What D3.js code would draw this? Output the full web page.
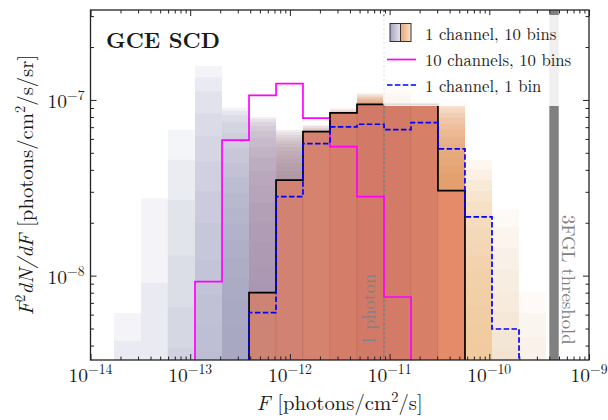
<!DOCTYPE html>
<html>
<head>
<meta charset="utf-8">
<script src="https://cdn.jsdelivr.net/npm/d3@7"></script>
<style>
  body { margin: 0; background: #fff; }
</style>
</head>
<body>
<div id="canvas"></div>
<script>
// flux bin edges, log10(F [photons/cm^2/s])
var binEdgesLog = [-13.764, -13.493, -13.223, -12.952, -12.681, -12.410, -12.139, -11.869, -11.598,
                   -11.327, -11.056, -10.785, -10.515, -10.244, -9.973, -9.702, -9.431];

// "1 channel, 10 bins": upper quantile levels of F^2 dN/dF in each bin (highest first)
var bandTops = [
  [6.13e-9, 4.25e-9],
  [2.76e-8, 9.12e-9],
  [6.75e-8, 4.56e-8, 2.70e-8, 1.30e-8, 6.61e-9, 3.86e-9],
  [1.56e-7, 1.34e-7, 1.12e-7, 8.40e-8, 6.24e-8, 4.45e-8, 3.03e-8, 1.99e-8, 1.23e-8, 7.84e-9, 5.24e-9, 3.69e-9],
  [9.01e-8, 8.66e-8, 8.21e-8, 7.49e-8, 6.49e-8, 5.33e-8, 4.38e-8, 3.60e-8, 2.96e-8, 2.43e-8, 1.99e-8, 1.60e-8, 1.26e-8, 9.70e-9, 7.27e-9, 5.24e-9],
  [8.00e-8, 7.80e-8, 7.49e-8, 7.11e-8, 6.66e-8, 6.08e-8, 5.40e-8, 4.68e-8, 3.94e-8, 3.24e-8, 2.59e-8, 2.02e-8, 1.54e-8, 1.14e-8, 8.85e-9],
  [6.75e-8, 6.58e-8, 6.32e-8, 6.08e-8, 5.84e-8, 5.62e-8, 5.40e-8, 5.12e-8, 4.86e-8, 4.62e-8, 4.38e-8, 4.16e-8, 3.94e-8, 3.74e-8, 3.60e-8],
  [7.20e-8, 7.11e-8, 6.97e-8, 6.88e-8, 6.79e-8, 6.71e-8, 6.62e-8],
  [8.94e-8, 8.77e-8, 8.60e-8, 8.49e-8],
  [1.092e-7, 1.068e-7, 1.047e-7, 1.027e-7, 1.006e-7, 9.87e-8, 9.68e-8, 9.55e-8],
  [1.170e-7, 1.133e-7, 1.096e-7, 1.061e-7, 1.027e-7, 1.000e-7, 9.74e-8, 9.55e-8],
  [1.000e-7, 9.74e-8, 9.55e-8],
  [1.000e-7, 9.49e-8, 9.01e-8, 8.43e-8, 7.90e-8, 7.30e-8, 6.75e-8, 6.16e-8, 5.62e-8, 5.12e-8, 4.68e-8, 4.21e-8, 3.79e-8, 3.41e-8],
  [4.56e-8, 4.00e-8, 3.50e-8, 3.03e-8, 2.63e-8, 2.25e-8, 1.89e-8, 1.58e-8, 1.30e-8, 1.06e-8, 8.51e-9, 6.72e-9, 5.24e-9, 3.98e-9],
  [2.37e-8, 1.89e-8, 1.44e-8, 1.08e-8, 7.97e-9, 6.21e-9, 4.78e-9, 3.88e-9],
  [8.07e-9, 6.13e-9, 4.48e-9]
];

// medians / other estimates per bin (null = below the plot)
var median10bins = [null, null, null, null, null, 8.0e-9, 3.50e-8, 6.60e-8, 8.43e-8, 9.43e-8, 9.43e-8, 9.43e-8, 3.05e-8, null, null, null];
var tenChannels  = [null, null, null, 9.24e-9, 5.90e-8, 1.063e-7, 1.238e-7, 7.87e-8, 5.42e-8, 2.82e-8, 7.56e-9, null, null, null, null, null];
var oneBin       = [null, null, null, null, null, 6.16e-9, 2.82e-8, 5.64e-8, 7.02e-8, 7.27e-8, 6.78e-8, 7.43e-8, 5.26e-8, 2.16e-8, 4.97e-9, null];

var onePhotonFlux = 8.8e-12;
var threshold3FGL = [4.0e-10, 4.97e-10];

var xTickValues = [1e-14, 1e-13, 1e-12, 1e-11, 1e-10, 1e-9];
var xTickExps   = ["\u221214", "\u221213", "\u221212", "\u221211", "\u221210", "\u22129"];
var yTickValues = [1e-8, 1e-7];
var yTickExps   = ["\u22128", "\u22127"];

// colours per bin
var bandColors = ["#aeb2cc", "#aeb2cc", "#b4b8d0", "#aeb0ca", "#a6a2be", "#a090aa", "#ab909e", "#c08c90",
                  "#c88878", "#d8804c", "#d8804c", "#d8804c", "#e5935c", "#eec598", "#f3dcc2", "#f2ddc4"];
var medianColors = [null, null, null, null, null, "#ce8475", "#d18273", "#d5836f", "#d47e6a", "#d27a67",
                    "#d37b67", "#d87f68", "#e68b6a", null, null, null];

var SERIF = "'Latin Modern Roman', 'CMU Serif', 'Liberation Serif', serif";

var W = 608, H = 420;
var margin = {left: 90.5, right: 19, top: 10, bottom: 60};

var svg = d3.select("#canvas").append("svg")
    .attr("width", W).attr("height", H)
    .attr("font-family", SERIF);

var x = d3.scaleLog().domain([1e-14, 1e-9]).range([margin.left, W - margin.right]);
var y = d3.scaleLog().domain([3.31e-9, 3.25e-7]).range([H - margin.bottom, margin.top]);
var x0 = x.range()[0], x1 = x.range()[1], yb = y.range()[0], yt = y.range()[1];

var edges = binEdgesLog.map(function(e) { return Math.pow(10, e); });

svg.append("clipPath").attr("id", "plotclip")
  .append("rect").attr("x", x0).attr("y", yt).attr("width", x1 - x0).attr("height", yb - yt);

var plot = svg.append("g").attr("clip-path", "url(#plotclip)");

// quantile bands
bandTops.forEach(function(tops, i) {
    plot.append("g").selectAll("rect")
        .data(tops.filter(function(v) { return v > y.domain()[0]; }))
        .enter().append("rect")
        .attr("x", x(edges[i]))
        .attr("width", x(edges[i + 1]) - x(edges[i]))
        .attr("y", function(d) { return y(d); })
        .attr("height", function(d) { return yb - y(d); })
        .attr("fill", bandColors[i])
        .attr("fill-opacity", 0.14);
});

// filled region below the median
plot.append("g").selectAll("rect")
    .data(median10bins.map(function(v, i) { return {v: v, i: i}; }).filter(function(d) { return d.v != null; }))
    .enter().append("rect")
    .attr("x", function(d) { return x(edges[d.i]); })
    .attr("width", function(d) { return x(edges[d.i + 1]) - x(edges[d.i]); })
    .attr("y", function(d) { return y(d.v); })
    .attr("height", function(d) { return yb - y(d.v); })
    .attr("fill", function(d) { return medianColors[d.i]; })
    .attr("stroke", "rgba(150,70,60,0.18)")
    .attr("stroke-width", 0.8);

// 1 photon line
plot.append("line")
    .attr("x1", x(onePhotonFlux)).attr("x2", x(onePhotonFlux))
    .attr("y1", yt).attr("y2", yb)
    .attr("stroke", "#808080").attr("stroke-width", 2)
    .attr("stroke-dasharray", "2,2.6");

function stepPoints(vals) {
    var idx = [];
    vals.forEach(function(v, i) { if (v != null) idx.push(i); });
    var first = idx[0], last = idx[idx.length - 1];
    var pts = [[x(edges[first]), yb + 2]];
    for (var i = first; i <= last; i++) {
        pts.push([x(edges[i]), y(vals[i])]);
        pts.push([x(edges[i + 1]), y(vals[i])]);
    }
    pts.push([x(edges[last + 1]), yb + 2]);
    return pts;
}
var line = d3.line();

plot.append("path").attr("d", line(stepPoints(tenChannels)))
    .attr("fill", "none").attr("stroke", "#ff00ff").attr("stroke-width", 1.7);
plot.append("path").attr("d", line(stepPoints(median10bins)))
    .attr("fill", "none").attr("stroke", "#000").attr("stroke-width", 1.7);
plot.append("path").attr("d", line(stepPoints(oneBin)))
    .attr("fill", "none").attr("stroke", "#0000ff").attr("stroke-width", 1.7)
    .attr("stroke-dasharray", "5.5,2.4");

// 3FGL threshold band
plot.append("rect")
    .attr("x", x(threshold3FGL[0])).attr("width", x(threshold3FGL[1]) - x(threshold3FGL[0]))
    .attr("y", yt).attr("height", yb - yt)
    .attr("fill", "#808080");

// axes: inward ticks on all four sides
function drawAxis(axisFn, scale, majors, transform) {
    var minors = scale.ticks().filter(function(t) {
        return majors.every(function(m) { return Math.abs(t / m - 1) > 1e-6; });
    });
    svg.append("g").attr("transform", transform)
        .call(axisFn(scale).tickValues(minors).tickSize(-3.5).tickFormat(""))
        .call(function(g) { g.select(".domain").remove(); g.selectAll("line").attr("stroke", "#222"); });
    svg.append("g").attr("transform", transform)
        .call(axisFn(scale).tickValues(majors).tickSize(-6).tickFormat(""))
        .call(function(g) { g.select(".domain").remove(); g.selectAll("line").attr("stroke", "#222"); });
}
drawAxis(d3.axisBottom, x, xTickValues, "translate(0," + yb + ")");
drawAxis(d3.axisTop, x, xTickValues, "translate(0," + yt + ")");
drawAxis(d3.axisLeft, y, yTickValues, "translate(" + x0 + ",0)");
drawAxis(d3.axisRight, y, yTickValues, "translate(" + x1 + ",0)");

svg.append("rect").attr("x", x0).attr("y", yt).attr("width", x1 - x0).attr("height", yb - yt)
    .attr("fill", "none").attr("stroke", "#222").attr("stroke-width", 1.3);

function txt(parent) {
    return parent.append("text").attr("font-family", SERIF).attr("fill", "#1a1a1a");
}

// tick labels
xTickValues.forEach(function(v, i) {
    var t = txt(svg).attr("x", x(v)).attr("y", yb + 22).attr("text-anchor", "middle");
    t.append("tspan").attr("font-size", 19.5).text("10");
    t.append("tspan").attr("font-size", 13.7).attr("dy", -8).text(xTickExps[i]);
});
yTickValues.forEach(function(v, i) {
    var t = txt(svg).attr("x", x0 - 6).attr("y", y(v) + 8).attr("text-anchor", "end");
    t.append("tspan").attr("font-size", 19.5).text("10");
    t.append("tspan").attr("font-size", 13.7).attr("dy", -8).text(yTickExps[i]);
});

// axis labels
var xl = txt(svg).attr("x", (x0 + x1) / 2).attr("y", 410)
    .attr("text-anchor", "middle").attr("font-size", 20.7);
xl.append("tspan").attr("font-style", "italic").text("F");
xl.append("tspan").text(" [photons/cm");
xl.append("tspan").attr("font-size", 14.5).attr("dy", -8.5).text("2");
xl.append("tspan").attr("dy", 8.5).text("/s]");

var yl = txt(svg)
    .attr("transform", "translate(33," + ((yt + yb) / 2) + ") rotate(-90)")
    .attr("text-anchor", "middle").attr("font-size", 20.7);
yl.append("tspan").attr("font-style", "italic").text("F");
yl.append("tspan").attr("font-size", 14.5).attr("dy", -8.5).text("2");
yl.append("tspan").attr("dy", 8.5).attr("font-style", "italic").text("dN/dF");
yl.append("tspan").text(" [photons/cm");
yl.append("tspan").attr("font-size", 14.5).attr("dy", -8.5).text("2");
yl.append("tspan").attr("dy", 8.5).text("/s/sr]");

// legend
var defs = svg.append("defs");
var g1 = defs.append("linearGradient").attr("id", "gradLeft");
g1.append("stop").attr("offset", "0%").attr("stop-color", "#a6a4be");
g1.append("stop").attr("offset", "100%").attr("stop-color", "#e4e4ee");
var g2 = defs.append("linearGradient").attr("id", "gradRight");
g2.append("stop").attr("offset", "0%").attr("stop-color", "#e8a474");
g2.append("stop").attr("offset", "100%").attr("stop-color", "#f8e4cc");

var leg = svg.append("g");
leg.append("rect").attr("x", 383).attr("y", 15).attr("width", 199).attr("height", 91)
    .attr("rx", 3).attr("fill", "#fff").attr("fill-opacity", 0.87);
leg.append("rect").attr("x", 390).attr("y", 23.5).attr("width", 10.5).attr("height", 18)
    .attr("fill", "url(#gradLeft)").attr("stroke", "#333").attr("stroke-width", 1);
leg.append("rect").attr("x", 400.5).attr("y", 23.5).attr("width", 10.5).attr("height", 18)
    .attr("fill", "url(#gradRight)").attr("stroke", "#333").attr("stroke-width", 1);
leg.append("line").attr("x1", 387).attr("x2", 416).attr("y1", 59.5).attr("y2", 59.5)
    .attr("stroke", "#ff00ff").attr("stroke-width", 1.7);
leg.append("line").attr("x1", 387).attr("x2", 416).attr("y1", 85).attr("y2", 85)
    .attr("stroke", "#0000ff").attr("stroke-width", 1.7).attr("stroke-dasharray", "5.5,2.4");
var legendLabels = ["1 channel, 10 bins", "10 channels, 10 bins", "1 channel, 1 bin"];
legendLabels.forEach(function(s, i) {
    txt(leg).attr("x", 425).attr("y", 40 + i * 25.8)
        .attr("font-size", 16.7).text(s);
});

// annotations
txt(svg).attr("x", 106).attr("y", 48)
    .attr("font-weight", "bold")
    .attr("font-size", 21.8).text("GCE SCD");

txt(svg)
    .attr("transform", "translate(375,345) rotate(-90)")
    .attr("font-size", 18.3).attr("fill", "#808080").text("1 photon");
txt(svg)
    .attr("transform", "translate(562,215) rotate(90)")
    .attr("font-size", 18.7).attr("fill", "#808080").text("3FGL threshold");
</script>
</body>
</html>
